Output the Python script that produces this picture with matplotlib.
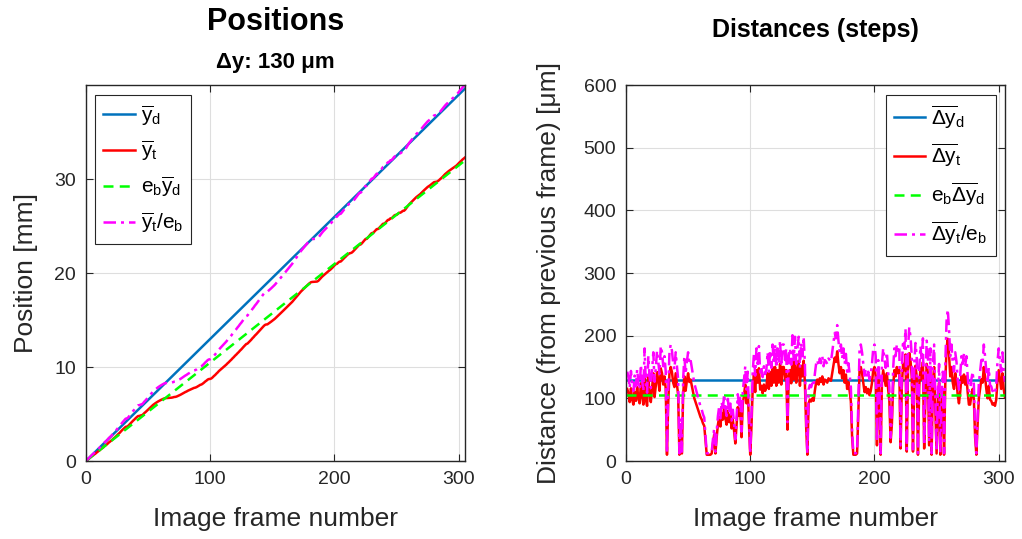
import numpy as np
import matplotlib.pyplot as plt

plt.rcParams['font.family'] = ['Liberation Sans', 'DejaVu Sans']
plt.rcParams['mathtext.fontset'] = 'custom'
plt.rcParams['mathtext.rm'] = 'Liberation Sans'
plt.rcParams['mathtext.it'] = 'Liberation Sans'
plt.rcParams['mathtext.bf'] = 'Liberation Sans:bold'

# nominal step and efficiency factor
DY_D = 130      # um
E_B = 0.807

dy_t = [
    115, 108, 94, 116, 98, 90, 110, 96, 118, 100,
    92, 124, 104, 90, 145, 98, 88, 135, 108, 94,
    116, 140, 102, 120, 142, 128, 112, 148, 140, 122,
    135, 115, 10, 92, 140, 150, 142, 125, 118, 140,
    122, 105, 10, 55, 12, 105, 135, 112, 128, 140,
    126, 130, 120, 110, 100, 94, 88, 82, 76, 70,
    66, 60, 56, 32, 10, 10, 10, 10, 12, 28,
    42, 12, 38, 58, 70, 55, 76, 66, 86, 68,
    58, 80, 62, 74, 52, 66, 48, 28, 56, 86,
    72, 84, 38, 90, 105, 122, 92, 115, 58, 10,
    55, 115, 138, 110, 145, 125, 148, 114, 120, 108,
    122, 112, 118, 140, 115, 142, 120, 150, 125, 150,
    120, 145, 125, 155, 122, 150, 150, 130, 145, 50,
    135, 145, 124, 162, 130, 160, 125, 145, 160, 120,
    152, 135, 160, 125, 55, 10, 92, 98, 95, 100,
    96, 112, 125, 130, 122, 132, 126, 135, 122, 130,
    128, 125, 132, 130, 128, 140, 152, 165, 158, 175,
    155, 140, 150, 132, 145, 125, 138, 115, 126, 112,
    95, 38, 10, 10, 10, 12, 75, 145, 150, 140,
    125, 110, 118, 108, 115, 105, 112, 125, 145, 150,
    135, 25, 130, 105, 10, 125, 145, 132, 120, 140,
    115, 95, 30, 58, 118, 145, 135, 150, 140, 145,
    20, 118, 155, 145, 170, 15, 145, 172, 160, 135,
    15, 125, 152, 135, 10, 118, 148, 130, 158, 20,
    100, 155, 140, 25, 145, 10, 125, 150, 78, 12,
    90, 125, 10, 80, 115, 10, 125, 180, 195, 170,
    135, 150, 125, 115, 140, 128, 105, 92, 110, 135,
    125, 138, 122, 135, 110, 90, 90, 105, 115, 98,
    38, 10, 58, 100, 115, 130, 125, 150, 135, 115,
    100, 120, 98, 96, 90, 92, 88, 98, 128, 145,
    130, 115, 140, 115, 102,
]

x_ticks = [0, 100, 200, 300]
pos_ticks = [0, 10, 20, 30]
dist_ticks = [0, 100, 200, 300, 400, 500, 600]

dy_t = np.array(dy_t, dtype=float)
n = len(dy_t)
frames = np.arange(n + 1)
steps = frames[1:]

# positions in mm
y_d = frames * DY_D / 1000
y_t = np.concatenate([[0], np.cumsum(dy_t)]) / 1000

BLUE = '#0072BD'
RED = '#FF0000'
GREEN = '#00FF00'
MAGENTA = '#FF00FF'
AXC = '#262626'


def style_axes(ax):
    ax.grid(True, color='#dedede', linewidth=0.8)
    ax.set_axisbelow(True)
    for s in ax.spines.values():
        s.set_color(AXC)
        s.set_linewidth(1.0)
    ax.tick_params(direction='in', length=5, width=0.8, colors=AXC,
                   labelsize=14, top=True, right=True, pad=7)


def add_legend(ax, loc, anchor):
    leg = ax.legend(loc=loc, bbox_to_anchor=anchor, borderaxespad=0,
                    fontsize=15, handlelength=1.5, handletextpad=0.3,
                    labelspacing=0.55, borderpad=0.4, fancybox=False,
                    framealpha=1, edgecolor=AXC)
    leg.get_frame().set_linewidth(0.8)


fig = plt.figure(figsize=(10.22, 5.39), dpi=100)
ax1 = fig.add_axes([0.0841, 0.1447, 0.3708, 0.6976])
ax2 = fig.add_axes([0.6125, 0.1447, 0.3708, 0.6976])

# Left: positions
ax1.plot(frames, y_d, color=BLUE, lw=1.8, label=r'$\overline{y}_d$')
ax1.plot(frames, y_t, color=RED, lw=1.8, label=r'$\overline{y}_t$')
ax1.plot(frames, E_B * y_d, color=GREEN, lw=1.8, ls=(0, (4, 2.5)),
         label=r'$e_b\overline{y}_d$')
ax1.plot(frames, y_t / E_B, color=MAGENTA, lw=1.8, ls=(0, (5, 2, 1.2, 2)),
         label=r'$\overline{y}_t/e_b$')
ax1.set_xlim(0, n)
ax1.set_ylim(0, max(y_d[-1], y_t[-1] / E_B))
ax1.set_xticks(x_ticks)
ax1.set_yticks(pos_ticks)
ax1.set_xlabel('Image frame number', fontsize=19, color=AXC, labelpad=14)
ax1.set_ylabel('Position [mm]', fontsize=19, color=AXC, labelpad=12)
ax1.text(0.5, 1.168, 'Positions', transform=ax1.transAxes, ha='center',
         va='center', fontsize=22, fontweight='bold')
ax1.text(0.5, 1.061, 'Δy: 130 μm', transform=ax1.transAxes, ha='center',
         va='center', fontsize=16, fontweight='bold')
style_axes(ax1)
add_legend(ax1, 'upper left', (0.024, 0.974))

# Right: distances
ax2.plot([0, n], [DY_D, DY_D], color=BLUE, lw=1.8,
         label=r'$\overline{\Delta y}_d$')
ax2.plot(steps, dy_t, color=RED, lw=1.8, label=r'$\overline{\Delta y}_t$')
ax2.plot([0, n], [E_B * DY_D, E_B * DY_D], color=GREEN, lw=1.8,
         ls=(0, (4, 2.5)), label=r'$e_b\overline{\Delta y}_d$')
ax2.plot(steps, dy_t / E_B, color=MAGENTA, lw=1.8, ls=(0, (5, 2, 1.2, 2)),
         label=r'$\overline{\Delta y}_t/e_b$')
ax2.set_xlim(0, n)
ax2.set_ylim(0, 600)
ax2.set_xticks(x_ticks)
ax2.set_yticks(dist_ticks)
ax2.set_xlabel('Image frame number', fontsize=19, color=AXC, labelpad=14)
ax2.set_ylabel('Distance (from previous frame) [μm]', fontsize=19,
               color=AXC, labelpad=16)
ax2.text(0.5, 1.146, 'Distances (steps)', transform=ax2.transAxes,
         ha='center', va='center', fontsize=18, fontweight='bold')
style_axes(ax2)
add_legend(ax2, 'upper right', (0.976, 0.974))

fig.savefig('out.png', dpi=100)
